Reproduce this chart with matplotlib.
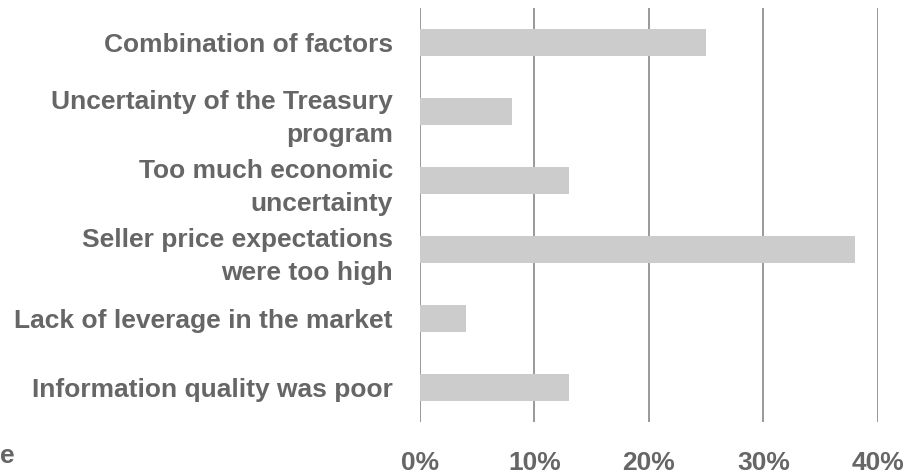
import matplotlib
matplotlib.use("Agg")
import matplotlib.pyplot as plt
from matplotlib.ticker import FuncFormatter

plt.rcParams['font.family'] = ['Liberation Sans', 'DejaVu Sans']

categories = [
    "Combination of factors",
    "Uncertainty of the Treasury\nprogram",
    "Too much economic\nuncertainty",
    "Seller price expectations\nwere too high",
    "Lack of leverage in the market",
    "Information quality was poor",
]
values = [25, 8, 13, 38, 4, 13]
ticks = [0, 10, 20, 30, 40]

text_color = "#666666"
bar_color = "#cccccc"
grid_color = "#888888"

fig = plt.figure(figsize=(9.2, 4.75), dpi=100)
ax = fig.add_axes([420 / 920, 1 - 422 / 475, 458 / 920, 414 / 475])

pos = list(range(len(categories)))
ax.barh(pos, values, height=0.39, color=bar_color, zorder=2)
ax.set_ylim(len(categories) - 0.5, -0.5)
ax.set_xlim(0, 40)

ax.set_xticks(ticks)
ax.xaxis.set_major_formatter(FuncFormatter(lambda v, p: f"{v:.0f}%"))
ax.grid(axis="x", color=grid_color, linewidth=1.2, zorder=1)
ax.set_axisbelow(True)

ax.set_yticks(pos)
ax.set_yticklabels(categories, fontsize=19, fontweight="bold", color=text_color,
                   linespacing=1.45, ha="right")
ax.tick_params(axis="y", length=0, pad=19.5)
ax.tick_params(axis="x", length=0, pad=21, labelsize=19, labelcolor=text_color)
for lbl in ax.get_xticklabels():
    lbl.set_fontweight("bold")

for s in ax.spines.values():
    s.set_visible(False)

fig.text(0.0, 1 - 456 / 475, "e", fontsize=19, fontweight="bold",
         color=text_color, ha="left", va="center")

fig.savefig("out.png", dpi=100)
